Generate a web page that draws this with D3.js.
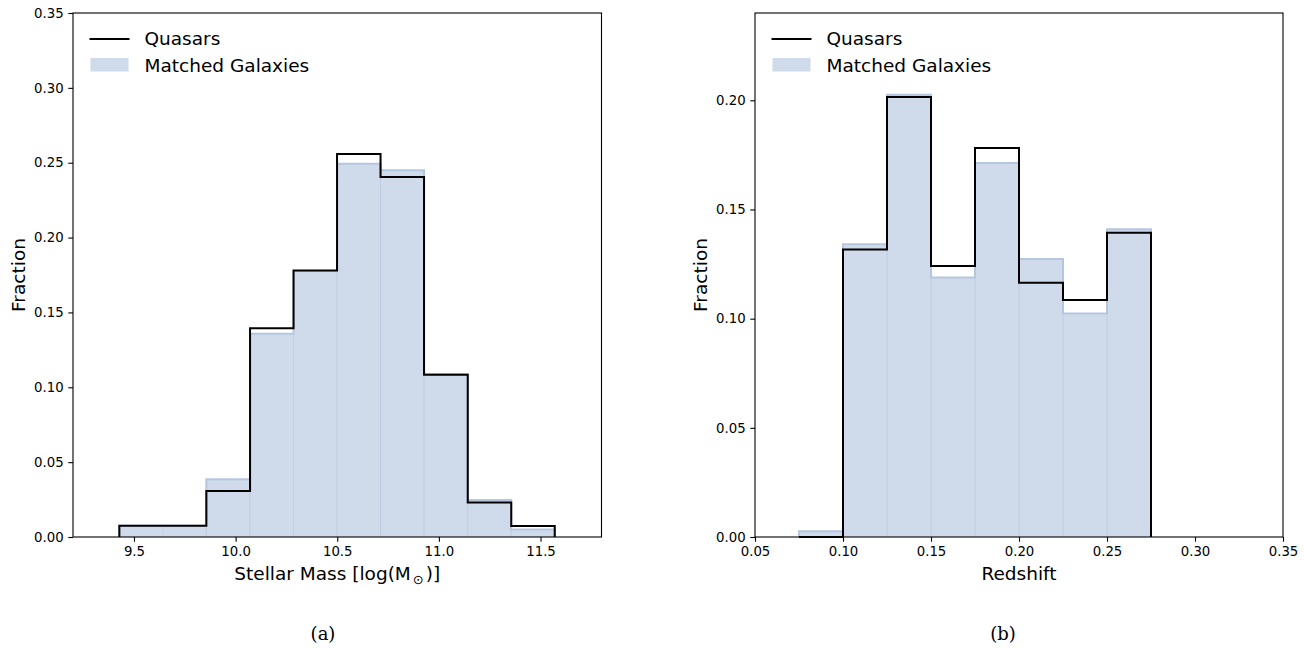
<!DOCTYPE html>
<html><head><meta charset="utf-8">
<script src="https://cdn.jsdelivr.net/npm/d3@7"></script>
<style>body{margin:0;background:#fff} svg text{font-family:"DejaVu Sans",sans-serif}</style>
</head><body><svg id="c" width="1304" height="648"></svg>
<script>
// ---- data ----
const massEdges = [9.428, 9.642, 9.856, 10.071, 10.285, 10.499, 10.713, 10.927, 11.142, 11.356, 11.570];
const massQuasars = [0.0075, 0.0075, 0.0308, 0.1395, 0.1780, 0.2558, 0.2404, 0.1083, 0.0230, 0.0074];
const massGalaxies = [0.0075, 0.0075, 0.0386, 0.1358, 0.1776, 0.2493, 0.2449, 0.1088, 0.0247, 0.0050];
const massXTicks = [9.5, 10.0, 10.5, 11.0, 11.5];
const massYTicks = [0.00, 0.05, 0.10, 0.15, 0.20, 0.25, 0.30, 0.35];

const zEdges = [0.075, 0.100, 0.125, 0.150, 0.175, 0.200, 0.225, 0.250, 0.275];
const zQuasars = [0.0, 0.1317, 0.2015, 0.1241, 0.1782, 0.1164, 0.1085, 0.1393];
const zGalaxies = [0.0026, 0.1341, 0.2026, 0.1189, 0.1713, 0.1273, 0.1024, 0.1410];
const zXTicks = [0.05, 0.10, 0.15, 0.20, 0.25, 0.30, 0.35];
const zYTicks = [0.00, 0.05, 0.10, 0.15, 0.20];

const legendLabels = ["Quasars", "Matched Galaxies"];
const captions = ["(a)", "(b)"];

const svg = d3.select("#c");
svg.append("rect").attr("width",1304).attr("height",648).attr("fill","#fff");

function stepPath(edges, vals, x, y) {
  let d = `M${x(edges[0])},${y(0)}`;
  vals.forEach((v,i)=>{ d += `L${x(edges[i])},${y(v)}L${x(edges[i+1])},${y(v)}`; });
  d += `L${x(edges[edges.length-1])},${y(0)}`;
  return d;
}

function panel(o) {
  const x = d3.scaleLinear().domain(o.xd).range([o.left, o.right]);
  const y = d3.scaleLinear().domain(o.yd).range([o.bottom, o.top]);
  const g = svg.append("g");
  // galaxy fills
  g.selectAll("rect.gal").data(o.gal).enter().append("rect")
    .attr("x",(d,i)=>x(o.edges[i])).attr("width",(d,i)=>x(o.edges[i+1])-x(o.edges[i]))
    .attr("y",d=>y(d)).attr("height",d=>y(0)-y(d)).attr("fill","#cfdaea");
  // interior faint edges
  g.selectAll("line.gal").data(o.gal.slice(1)).enter().append("line")
    .attr("x1",(d,i)=>x(o.edges[i+1])).attr("x2",(d,i)=>x(o.edges[i+1]))
    .attr("y1",y(0)).attr("y2",(d,i)=>y(Math.min(d,o.gal[i])))
    .attr("stroke","#bfcde2").attr("stroke-width",1);
  // galaxy outline
  g.append("path").attr("d",stepPath(o.edges,o.gal,x,y)).attr("fill","none")
    .attr("stroke","#b5c6df").attr("stroke-width",2);
  // quasar step
  g.append("path").attr("d",stepPath(o.edges,o.qso,x,y)).attr("fill","none")
    .attr("stroke","#000").attr("stroke-width",2).attr("stroke-linejoin","miter");
  // axes
  const xa = g.append("g").attr("transform",`translate(0,${o.bottom})`)
    .call(d3.axisBottom(x).tickValues(o.xt).tickFormat(d3.format(o.xf)).tickSize(4.7).tickPadding(4.7));
  const ya = g.append("g").attr("transform",`translate(${o.left},0)`)
    .call(d3.axisLeft(y).tickValues(o.yt).tickFormat(d3.format(".2f")).tickSize(4.7).tickPadding(4.7));
  [xa,ya].forEach(a=>{
    a.select(".domain").remove();
    a.selectAll(".tick line").attr("stroke","#000").attr("stroke-width",1.1);
    a.selectAll(".tick text").attr("fill","#000").attr("font-size","13.3px")
      .style("font-family","'DejaVu Sans',sans-serif");
  });
  g.append("rect").attr("x",o.left).attr("y",o.top).attr("width",o.right-o.left).attr("height",o.bottom-o.top)
    .attr("fill","none").attr("stroke","#000").attr("stroke-width",1.1);
  // y label
  g.append("text").attr("transform",`translate(${o.left-48},${(o.top+o.bottom)/2}) rotate(-90)`)
    .attr("text-anchor","middle").attr("font-size","18.5px").attr("fill","#000").text("Fraction");
  // x label
  const xl = g.append("text").attr("x",(o.left+o.right)/2).attr("y",580)
    .attr("text-anchor","middle").attr("font-size","18.5px").attr("fill","#000");
  o.xlabel(xl);
  // legend
  const lx = o.left + 16.5;
  g.append("line").attr("x1",lx).attr("x2",lx+40).attr("y1",39).attr("y2",39)
    .attr("stroke","#000").attr("stroke-width",2);
  g.append("text").attr("x",lx+55).attr("y",45).attr("font-size","18.5px").attr("fill","#000").text(legendLabels[0]);
  g.append("rect").attr("x",lx+1).attr("y",58).attr("width",38).attr("height",13.5).attr("fill","#cfdaea");
  g.append("text").attr("x",lx+55).attr("y",71.5).attr("font-size","18.5px").attr("fill","#000").text(legendLabels[1]);
  // caption
  g.append("text").attr("x",o.cap).attr("y",640).attr("text-anchor","middle")
    .attr("font-size","18px").style("font-family","'DejaVu Serif',serif").attr("fill","#000").text(o.caption);
}

panel({xd:[9.2,11.8], yd:[0,0.35], left:73, right:601.5, top:13, bottom:537,
  edges:massEdges, qso:massQuasars, gal:massGalaxies, xt:massXTicks, yt:massYTicks, xf:".1f",
  cap:323, caption:captions[0],
  xlabel: t=>{ t.append("tspan").text("Stellar Mass [log(M");
    t.append("tspan").attr("font-size","13px").attr("dy",4).attr("dx",2).text("\u2299");
    t.append("tspan").attr("dy",-4).attr("dx",2).text(")]"); }});

panel({xd:[0.05,0.35], yd:[0,0.24], left:755, right:1283, top:13, bottom:537,
  edges:zEdges, qso:zQuasars, gal:zGalaxies, xt:zXTicks, yt:zYTicks, xf:".2f",
  cap:1003, caption:captions[1],
  xlabel: t=>{ t.text("Redshift"); }});
</script></body></html>
